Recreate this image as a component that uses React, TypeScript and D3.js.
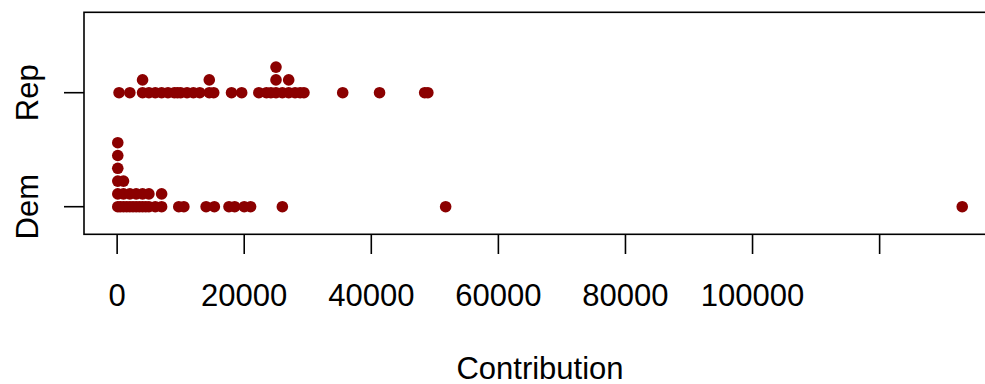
import React from "react";
import * as d3 from "d3";

const categories = ["Dem", "Rep"];

const demContributions = [
  100, 100, 100, 100, 100, 100, 500, 1000, 1000, 1000, 1500, 2000, 2000, 2500,
  3000, 3000, 3500, 4000, 4000, 4500, 5000, 5000, 6000, 7000, 7000, 9700, 10500,
  14000, 15300, 17600, 18500, 20000, 21000, 26000, 51700, 133000,
];

const repContributions = [
  300, 2000, 4000, 4000, 5000, 6000, 7000, 8000, 9000, 9500, 10000, 11000, 12000,
  13000, 14500, 14500, 15200, 18000, 19600, 22300, 23500, 24200, 25000, 25000,
  25000, 26000, 27000, 27000, 28000, 28800, 29400, 35500, 41300, 48400, 48900,
];

const xTicks = [0, 20000, 40000, 60000, 80000, 100000, 120000];
const xTickLabels = ["0", "20000", "40000", "60000", "80000", "100000", ""];
const xTitle = "Contribution";

const W = 985;
const H = 384;
const plotLeft = 84;
const plotRight = 996;
const plotTop = 12.3;
const plotBottom = 234.3;
const color = "#8B0000";
const font = "'Liberation Sans', Arial, Helvetica, sans-serif";

function stack(values: number[], group: number) {
  const counts = new Map<number, number>();
  return values.map((v) => {
    const c = counts.get(v) || 0;
    counts.set(v, c + 1);
    return { v, g: group, level: c };
  });
}

export default function App() {
  const all = [...demContributions, ...repContributions];
  const [mn, mx] = d3.extent(all) as [number, number];
  const pad = (mx - mn) * 0.04;
  const x = d3.scaleLinear().domain([mn - pad, mx + pad]).range([plotLeft, plotRight]);
  const y = d3.scaleLinear().domain([1, 2]).range([206.7, 92.7]);
  const stackStep = 0.1123;

  const points = [
    ...stack(demContributions, 1),
    ...stack(repContributions, 2),
  ];

  return (
    <svg
      width={W}
      height={H}
      style={{ position: "absolute", left: 0, top: 0, background: "#fff" }}
      fontFamily={font}
    >
      <rect x={0} y={0} width={W} height={H} fill="#fff" />
      {points.map((p, i) => (
        <circle
          key={i}
          cx={x(p.v)}
          cy={y(p.g + p.level * stackStep)}
          r={5.8}
          fill={color}
        />
      ))}
      <rect
        x={plotLeft}
        y={plotTop}
        width={plotRight - plotLeft}
        height={plotBottom - plotTop}
        fill="none"
        stroke="#000"
        strokeWidth={1.6}
      />
      {xTicks.map((t, i) => (
        <g key={t}>
          <line x1={x(t)} x2={x(t)} y1={plotBottom} y2={254} stroke="#000" strokeWidth={1.6} />
          <text x={x(t)} y={305.5} fontSize={31} textAnchor="middle" fill="#000">
            {xTickLabels[i]}
          </text>
        </g>
      ))}
      {categories.map((c, i) => (
        <g key={c}>
          <line x1={64} x2={plotLeft} y1={y(i + 1)} y2={y(i + 1)} stroke="#000" strokeWidth={1.6} />
          <text
            transform={`translate(38,${y(i + 1)}) rotate(-90)`}
            fontSize={31}
            textAnchor="middle"
            fill="#000"
          >
            {c}
          </text>
        </g>
      ))}
      <text x={(plotLeft + plotRight) / 2} y={378.5} fontSize={31} textAnchor="middle" fill="#000">
        {xTitle}
      </text>
    </svg>
  );
}
